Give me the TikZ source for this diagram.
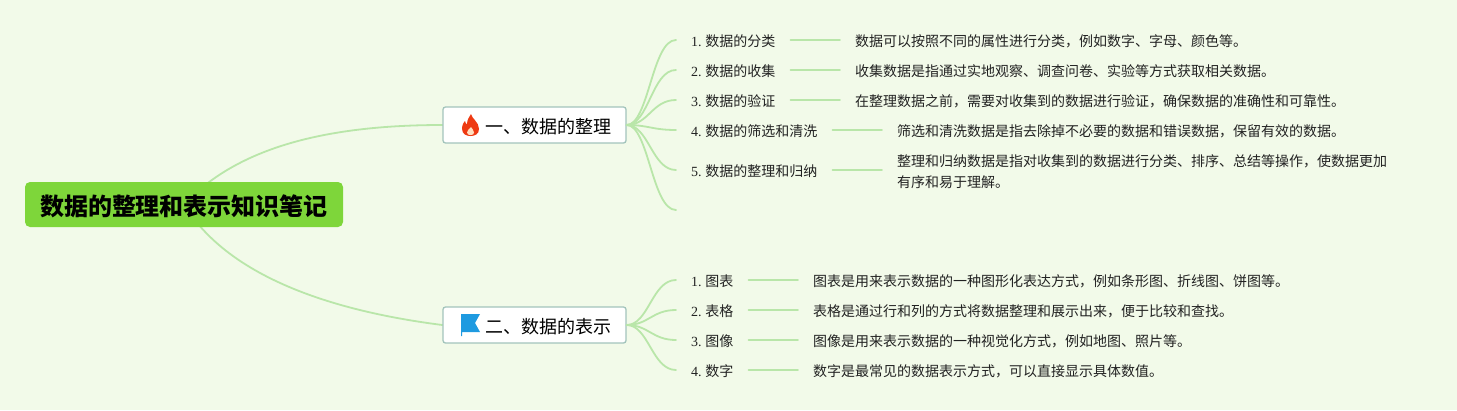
\documentclass[tikz,border=0pt]{standalone}
\usepackage{fontspec}
\setmainfont{Liberation Serif}
\newfontfamily\cjk{Noto Sans CJK SC}
\usetikzlibrary{backgrounds,calc}
\definecolor{bgc}{HTML}{F2FAE9}
\definecolor{linec}{HTML}{B9E6A9}
\definecolor{rootc}{HTML}{7ED63A}
\definecolor{boxb}{HTML}{A3C4BC}
\definecolor{txt}{HTML}{222222}
\definecolor{flamec}{HTML}{EE3A12}
\definecolor{flagc}{HTML}{1E9AE0}
\newcommand{\lb}[2]{#1\hspace{3.6pt}{\cjk #2}}
\newcommand{\cm}{\char"FF0C\relax}
\tikzset{
  rootnode/.style={fill=rootc,rounded corners=5pt,minimum width=318pt,minimum height=45pt,inner sep=0pt,font=\fontsize{24}{28}\selectfont\cjk\bfseries,text=black},
  topicnode/.style={draw=boxb,line width=1.3pt,fill=white,rounded corners=2.5pt,minimum width=183pt,minimum height=36pt,inner sep=0pt,font=\fontsize{18}{22}\selectfont\cjk,text=black,text height=17pt,text depth=1pt},
  labelnode/.style={anchor=west,inner xsep=15pt,inner ysep=0pt,text height=14pt,text depth=2pt,font=\fontsize{14}{20}\selectfont,text=txt},
  detailnode/.style={anchor=west,inner xsep=15pt,inner ysep=0pt,text height=14pt,text depth=2pt,font=\fontsize{14}{21}\selectfont\cjk,text=txt},
  detailtwo/.style={anchor=west,inner xsep=15pt,inner ysep=0pt,align=left,font=\fontsize{14}{21}\selectfont\cjk,text=txt},
  conn/.style={draw=linec,line width=1.8pt,line cap=round}
}
\begin{document}
\begin{tikzpicture}[x=1pt,y=-1pt]
\useasboundingbox (0,0) rectangle (1457,410);
\node[rootnode,text height=22pt,text depth=0pt] (root) at (184,204.5) {数据的整理和表示知识笔记};
\node[topicnode] (t1) at (534.5,125) {\hspace*{27pt}一、数据的整理};
\node[topicnode] (t2) at (534.5,325) {\hspace*{27pt}二、数据的表示};

% flame icon
\fill[flamec] (471,114) .. controls (472,119) and (479,122) .. (479,129)
  .. controls (479,134) and (475,136) .. (470.5,136)
  .. controls (466,136) and (462,134) .. (462,128.5)
  .. controls (462,125) and (464,122) .. (465,121)
  .. controls (465.5,123) and (466,124) .. (467,124.5)
  .. controls (467,120) and (469,117) .. (471,114) -- cycle;
\fill[white!75!orange] (471,127) .. controls (472,129) and (474,130) .. (474,132.5)
  .. controls (474,134.5) and (472.5,135) .. (470.5,135)
  .. controls (468.5,135) and (467,134.5) .. (467,132.5)
  .. controls (467,130) and (469.5,129) .. (471,127) -- cycle;
% flag icon
\fill[flagc] (461,314) -- (480,314) -- (475,323) -- (480,332) -- (462,332) -- (462,336) -- (461,336) -- cycle;

\coordinate (e1) at (676,210);
\foreach \n/\y/\a/\b in {a/40/1./数据的分类,b/70/2./数据的收集,c/100/3./数据的验证,d/130/4./数据的筛选和清洗,e/170/5./数据的整理和归纳}
  \node[labelnode] (l\n) at (676,\y) {\lb{\a}{\b}};
\foreach \n/\y/\a/\b in {f/280/1./图表,g/310/2./表格,h/340/3./图像,i/370/4./数字}
  \node[labelnode] (l\n) at (676,\y) {\lb{\a}{\b}};

\node[detailnode] (da) at (840,40) {数据可以按照不同的属性进行分类\cm 例如数字、字母、颜色等。};
\node[detailnode] (db) at (840,70) {收集数据是指通过实地观察、调查问卷、实验等方式获取相关数据。};
\node[detailnode] (dc) at (840,100) {在整理数据之前\cm 需要对收集到的数据进行验证\cm 确保数据的准确性和可靠性。};
\node[detailnode] (dd) at (882,130) {筛选和清洗数据是指去除掉不必要的数据和错误数据\cm 保留有效的数据。};
\node[detailtwo] (de) at (882,171.5) {整理和归纳数据是指对收集到的数据进行分类、排序、总结等操作\cm 使数据更加\\有序和易于理解。};
\node[detailnode] (df) at (798,280) {图表是用来表示数据的一种图形化表达方式\cm 例如条形图、折线图、饼图等。};
\node[detailnode] (dg) at (798,310) {表格是通过行和列的方式将数据整理和展示出来\cm 便于比较和查找。};
\node[detailnode] (dh) at (798,340) {图像是用来表示数据的一种视觉化方式\cm 例如地图、照片等。};
\node[detailnode] (di) at (798,370) {数字是最常见的数据表示方式\cm 可以直接显示具体数值。};

\begin{scope}[on background layer]
\fill[bgc] (0,0) rectangle (1457,410);
\draw[conn] (root.center) .. controls (235,150) and (320,125) .. (t1.west);
\draw[conn] (root.center) .. controls (230,280) and (340,312) .. (t2.west);
\end{scope}

\foreach \n in {a,b,c,d,e}
  \draw[conn] (t1.east) .. controls +(22,0) and ($(l\n.west)+(-24,0)$) .. (l\n.west);
\draw[conn] (t1.east) .. controls +(22,0) and ($(e1)+(-24,0)$) .. (e1);
\foreach \n in {f,g,h,i}
  \draw[conn] (t2.east) .. controls +(22,0) and ($(l\n.west)+(-24,0)$) .. (l\n.west);
\foreach \n in {a,b,c,d,f,g,h,i}
  \draw[conn] (l\n.east) -- (d\n.west);
\draw[conn] (le.east) -- (le.east -| de.west);
\end{tikzpicture}
\end{document}
